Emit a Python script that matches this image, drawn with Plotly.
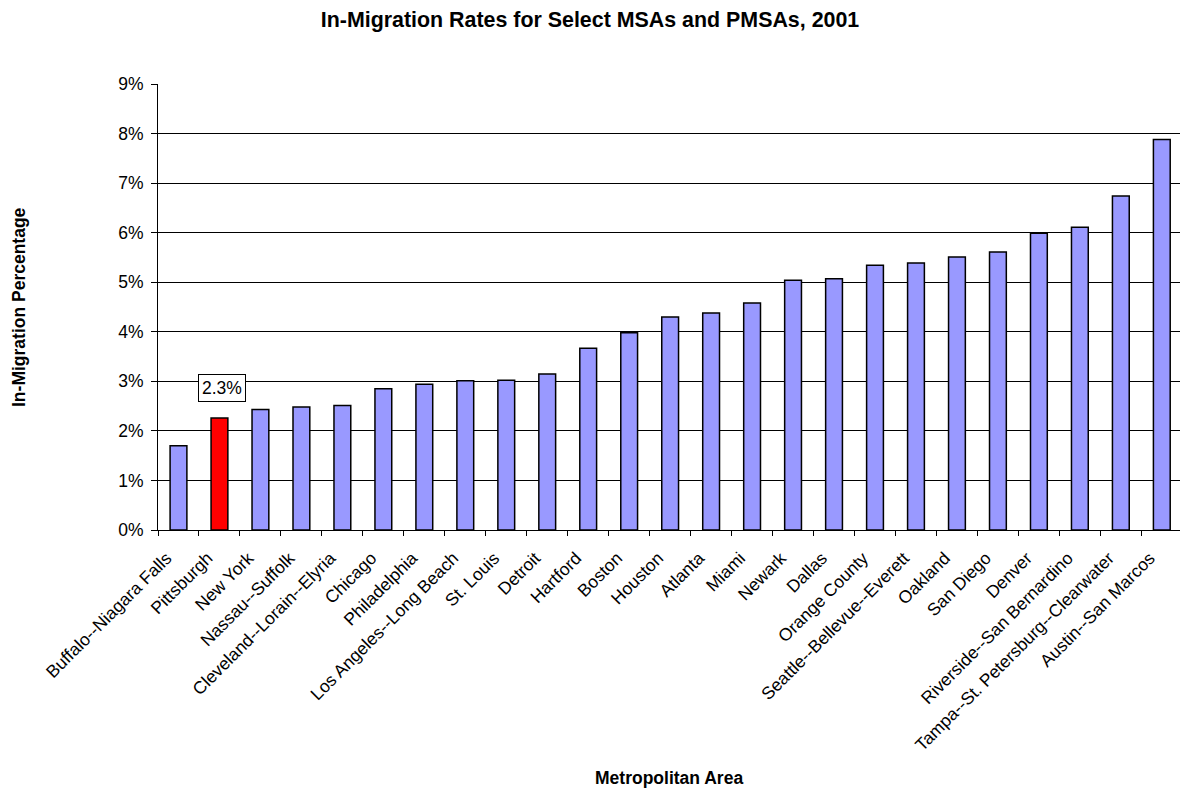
import plotly.graph_objects as go

title = "In-Migration Rates for Select MSAs and PMSAs, 2001"
x_title = "Metropolitan Area"
y_title = "In-Migration Percentage"

areas = [
    "Buffalo--Niagara Falls", "Pittsburgh", "New York", "Nassau--Suffolk",
    "Cleveland--Lorain--Elyria", "Chicago", "Philadelphia", "Los Angeles--Long Beach",
    "St. Louis", "Detroit", "Hartford", "Boston", "Houston", "Atlanta", "Miami",
    "Newark", "Dallas", "Orange County", "Seattle--Bellevue--Everett", "Oakland",
    "San Diego", "Denver", "Riverside--San Bernardino",
    "Tampa--St. Petersburg--Clearwater", "Austin--San Marcos",
]
rates = [
    1.70, 2.26, 2.43, 2.48, 2.51, 2.85, 2.94, 3.01, 3.02, 3.15, 3.67, 3.98,
    4.30, 4.38, 4.58, 5.04, 5.07, 5.34, 5.39, 5.51, 5.61, 5.99, 6.11, 6.74, 7.88,
]
highlight = "Pittsburgh"
y_ticks = list(range(0, 10))

colors = ["#FF0000" if a == highlight else "#9999FF" for a in areas]

FONT = "Liberation Sans, Arial, sans-serif"

fig = go.Figure(
    go.Bar(
        x=areas,
        y=rates,
        marker=dict(color=colors, line=dict(color="#000000", width=1.5)),
        hoverinfo="x+y",
    )
)

hi_idx = areas.index(highlight)
fig.add_annotation(
    x=highlight, y=rates[hi_idx], xref="x", yref="y",
    text=f"{rates[hi_idx]:.1f}%", showarrow=False,
    yanchor="bottom", yshift=16, xshift=3,
    bgcolor="white", bordercolor="#000000", borderwidth=1, borderpad=3,
    font=dict(family=FONT, size=17.5, color="#000000"),
)

# axis titles as annotations
fig.add_annotation(
    x=0, y=0.5, xref="paper", yref="paper", xshift=-139, xanchor="center",
    yanchor="middle", text=f"<b>{y_title}</b>", textangle=-90, showarrow=False,
    font=dict(family=FONT, size=17.5, color="#000000"),
)
fig.add_annotation(
    x=0.5, y=0, xref="paper", yref="paper", yshift=-248, xanchor="center",
    yanchor="middle", text=f"<b>{x_title}</b>", showarrow=False,
    font=dict(family=FONT, size=17.5, color="#000000"),
)

fig.update_layout(
    width=1180, height=790,
    margin=dict(l=158, r=0, t=84, b=260, pad=0),
    paper_bgcolor="white", plot_bgcolor="white",
    bargap=0.59,
    showlegend=False,
    title=dict(
        text=f"<b>{title}</b>", x=0.5, xref="container", xanchor="center",
        y=1 - 20 / 790, yref="container", yanchor="middle",
        font=dict(family=FONT, size=21.4, color="#000000"),
    ),
    font=dict(family=FONT, size=17.5, color="#000000"),
)

fig.update_xaxes(
    type="category",
    range=[-0.5, 24.444],
    tickangle=-45,
    tickson="boundaries",
    ticks="outside", ticklen=5, tickcolor="#000000", tickwidth=1,
    ticklabelstandoff=10, ticklabelshift=-12,
    showline=True, linecolor="#000000", linewidth=1,
    showgrid=False,
    tickfont=dict(family=FONT, size=17.5, color="#000000"),
)
fig.update_yaxes(
    range=[0, 9],
    tickvals=y_ticks,
    ticktext=[f"{v}%" for v in y_ticks],
    ticks="outside", ticklen=6, tickcolor="#000000", tickwidth=1,
    ticklabelstandoff=4,
    showline=True, linecolor="#000000", linewidth=1,
    showgrid=True, gridcolor="#000000", gridwidth=1,
    zeroline=False,
    tickfont=dict(family=FONT, size=17.5, color="#000000"),
)

fig.write_html("out.html")
